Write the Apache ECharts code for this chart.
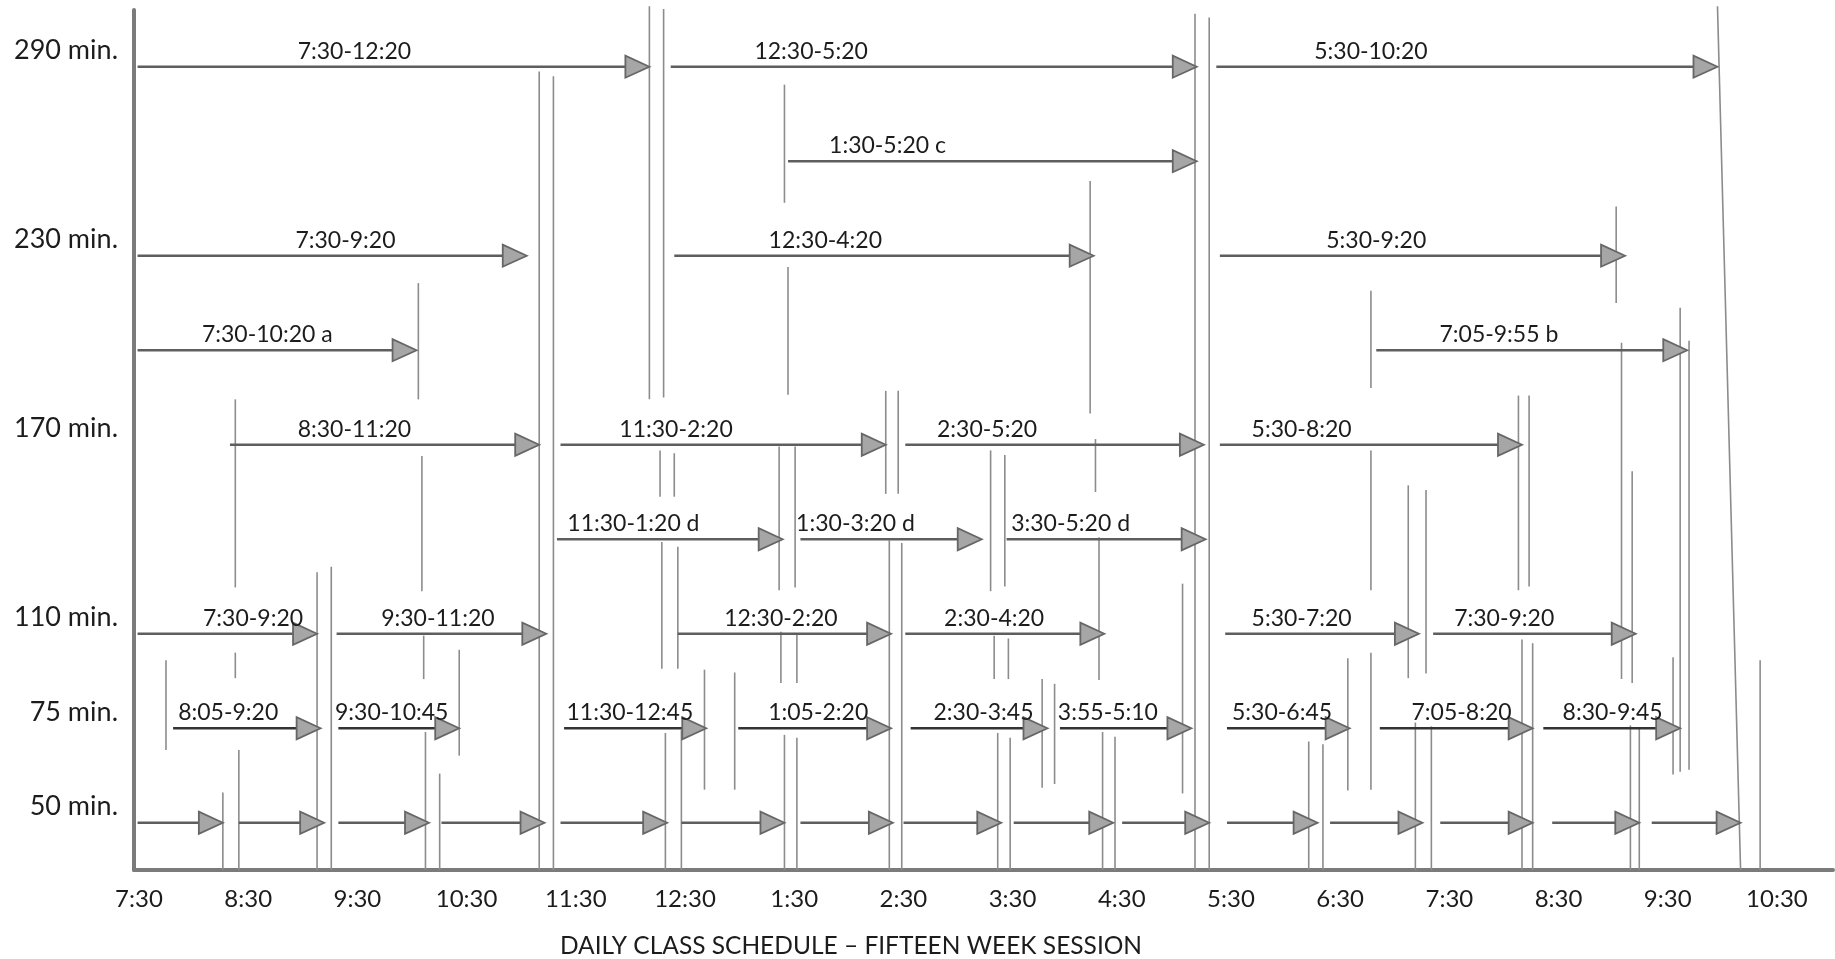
<!DOCTYPE html>
<html>
<head>
<meta charset="utf-8">
<script src="https://cdn.jsdelivr.net/npm/echarts@6/dist/echarts.min.js"></script>
<style>
html,body{margin:0;padding:0;background:#ffffff;}
#chart{width:1835px;height:959px;}
</style>
</head>
<body>
<div id="chart"></div>
<script>
// ---- Data (time in minutes after 7:30 am, rows counted from the bottom) ----
const tickMinutes = [0,60,120,180,240,300,360,420,480,540,600,660,720,780,840,900];
const tickLabels = ['7:30','8:30','9:30','10:30','11:30','12:30','1:30','2:30','3:30','4:30','5:30','6:30','7:30','8:30','9:30','10:30'];
const durationRows = [1,2,3,5,7,9];
const durationLabels = ['50 min.','75 min.','110 min.','170 min.','230 min.','290 min.'];

// [start, end, label, label anchor]
const classes290 = [[0,288,'7:30-12:20',122],[300,596,'12:30-5:20',379],[607,889,'5:30-10:20',694]];
const classesC   = [[366,596,'1:30-5:20 c',422]];
const classes230 = [[0,219,'7:30-9:20',117],[302,538,'12:30-4:20',387],[609,837,'5:30-9:20',697]];
const classesAB  = [[0,157,'7:30-10:20 a',73],[697,872,'7:05-9:55 b',766]];
const classes170 = [[52,226,'8:30-11:20',122],[238,421,'11:30-2:20',303],[432,600,'2:30-5:20',478],[609,779,'5:30-8:20',655]];
const classesD   = [[236,363,'11:30-1:20 d',279],[373,475,'1:30-3:20 d',404],[489,601,'3:30-5:20 d',525]];
const classes110 = [[0,101,'7:30-9:20',65],[112,230,'9:30-11:20',169],[304,424,'12:30-2:20',362],[432,544,'2:30-4:20',482],[612,721,'5:30-7:20',655],[729,843,'7:30-9:20',769]];
const classes75  = [[20,103,'8:05-9:20',51],[113,181,'9:30-10:45',143],[240,320,'11:30-12:45',277],[338,424,'1:05-2:20',383],[435,512,'2:30-3:45',476],[519,593,'3:55-5:10',546],[613,682,'5:30-6:45',644],[699,785,'7:05-8:20',745],[791,868,'8:30-9:45',830]];
const classes50  = [[0,48],[57,105],[113,164],[171,229],[238,298],[306,364],[373,425],[431,486],[493,549],[554,603],[613,664],[671,723],[733,785],[796,845],[852,902]];

const rowGroups = [[classes290,9],[classesC,8],[classes230,7],[classesAB,6],[classes170,5],[classesD,4],[classes110,3],[classes75,2],[classes50,1]];

// vertical boundary marks: [time, top row, bottom row]
const boundaryMarks = [
 [16,2.72,1.77],[48,1.32,0.5],[55,5.48,3.49],[55,2.80,2.53],[57,1.77,0.5],
 [101,3.65,0.5],[109,3.71,0.5],[158,6.71,5.48],[160,4.88,3.45],[161,2.98,2.52],
 [162,1.96,0.5],[170,1.52,0.5],[181,2.83,1.71],[226,8.95,0.5],[234,8.90,0.5],
 [288,9.64,5.48],[296,9.61,5.50],[294,4.94,4.45],[302,4.91,4.45],[295,3.97,2.63],
 [304,3.92,2.63],[297,1.95,0.5],[306,1.98,0.5],[319,2.62,1.35],[336,2.59,1.35],
 [364,8.81,7.56],[366,6.88,5.53],[361,4.98,3.46],[370,4.98,3.49],[362,3.02,2.48],
 [371,2.99,2.48],[364,1.93,0.5],[371,1.90,0.5],[421,5.57,4.48],[428,5.57,4.48],
 [423,3.99,0.5],[430,3.96,0.5],[480,4.94,3.45],[488,4.89,3.50],[482,2.98,2.52],
 [490,2.95,2.52],[484,1.95,0.5],[491,1.90,0.5],[509,2.52,1.37],[516,2.47,1.41],
 [536,7.79,5.33],[539,5.06,4.50],[541,4.02,2.51],[543,1.96,0.5],[550,1.91,0.5],
 [588,3.53,1.31],[595,9.56,0.5],[603,9.52,0.5],[694,6.63,5.60],[694,4.94,3.46],
 [681,2.74,1.34],[694,2.80,1.35],[715,4.57,2.53],[725,4.52,2.58],[659,1.86,0.5],
 [667,1.83,0.5],[719,2.06,0.5],[728,2.02,0.5],[777,5.52,3.46],[783,5.52,3.50],
 [779,2.94,0.5],[785,2.90,0.5],[832,7.52,6.50],[835,6.08,2.52],[841,4.72,2.48],
 [840,2.03,0.5],[845,2.00,0.5],[864,2.75,1.51],[868,6.45,1.54],[873,6.10,1.56],
 [913,2.72,0.5]
];
// slightly slanted marks: [time at top, time at bottom, top row, bottom row]
const slantedMarks = [[889,902,9.64,0.5]];

const titleText = 'DAILY CLASS SCHEDULE \u2013 FIFTEEN WEEK SESSION';

// ---- Build series data ----
const arrowItems = [];
rowGroups.forEach(function (g) {
  g[0].forEach(function (c) {
    arrowItems.push({ value: [c[0], c[1], g[1], c[3] != null ? c[3] : c[0]], text: c[2] || '' });
  });
});
const markItems = boundaryMarks.map(function (m) { return [m[0], m[0], m[1], m[2]]; }).concat(slantedMarks);

const FONT = 'Lato, "Open Sans", sans-serif';

function renderArrow(params, api) {
  const item = arrowItems[params.dataIndex];
  const s = api.value(0), e = api.value(1), r = api.value(2), la = api.value(3);
  const p0 = api.coord([s, r]);
  const p1 = api.coord([e, r]);
  const L = 24, H = 11;
  const shaft = r === 2 ? '#333333' : '#5e5e5e';
  const children = [
    { type: 'line', shape: { x1: p0[0], y1: p0[1], x2: p1[0] - L + 3, y2: p1[1] },
      style: { stroke: shaft, lineWidth: 2.4 } },
    { type: 'polygon', shape: { points: [[p1[0], p1[1]], [p1[0] - L, p1[1] - H], [p1[0] - L, p1[1] + H]] },
      style: { fill: '#a6a6a6', stroke: '#666666', lineWidth: 1.8 } }
  ];
  if (item.text) {
    const pl = api.coord([la, r]);
    children.push({ type: 'text', x: pl[0], y: pl[1] - 4,
      style: { text: item.text, fill: '#1c1c1c', fontSize: 23, fontFamily: FONT,
               align: 'center', verticalAlign: 'bottom' } });
  }
  return { type: 'group', children: children };
}

function renderMark(params, api) {
  const a = api.coord([api.value(0), api.value(2)]);
  const b = api.coord([api.value(1), api.value(3)]);
  return { type: 'line', shape: { x1: a[0], y1: a[1], x2: b[0], y2: b[1] },
           style: { stroke: '#8c8c8c', lineWidth: 1.6 } };
}

const chart = echarts.init(document.getElementById('chart'), null, { renderer: 'canvas' });
chart.setOption({
  backgroundColor: '#ffffff',
  animation: false,
  grid: { left: 134, right: 2, top: 10, bottom: 89, containLabel: false },
  xAxis: [
    { type: 'value', min: -2, max: 954, position: 'bottom',
      axisLine: { show: true, onZero: false, lineStyle: { color: '#7b7b7b', width: 4 } },
      axisTick: { show: false }, axisLabel: { show: false }, splitLine: { show: false } },
    { type: 'value', min: -2.75, max: 930.8, position: 'bottom',
      axisLine: { show: false }, axisTick: { show: false }, splitLine: { show: false },
      axisLabel: { show: true, customValues: tickMinutes, margin: 17,
        fontSize: 24, fontFamily: FONT, color: '#1c1c1c',
        formatter: function (v) { const i = tickMinutes.indexOf(Math.round(v)); return i >= 0 ? tickLabels[i] : ''; } } }
  ],
  yAxis: {
    type: 'value', min: 0.5, max: 9.6, position: 'left',
    axisLine: { show: true, onZero: false, lineStyle: { color: '#7b7b7b', width: 4 } },
    axisTick: { show: false }, splitLine: { show: false },
    axisLabel: { show: true, customValues: durationRows, margin: 16,
      fontSize: 27, fontFamily: FONT, color: '#1c1c1c',
      verticalAlign: 'bottom', lineHeight: 32,
      formatter: function (v) { const i = durationRows.indexOf(Math.round(v)); return i >= 0 ? durationLabels[i] : ''; } }
  },
  series: [
    { type: 'custom', name: 'boundaries', xAxisIndex: 0, yAxisIndex: 0,
      data: markItems, encode: { x: [0, 1], y: [2, 3] }, renderItem: renderMark, z: 1 },
    { type: 'custom', name: 'classes', xAxisIndex: 0, yAxisIndex: 0,
      data: arrowItems, encode: { x: [0, 1, 3], y: 2 }, renderItem: renderArrow, z: 2 }
  ],
  graphic: [
    { type: 'text', x: 851, y: 946,
      style: { text: titleText, fill: '#1c1c1c', fontSize: 24.5, fontFamily: FONT,
               align: 'center', verticalAlign: 'middle' } }
  ]
});
</script>
</body>
</html>
